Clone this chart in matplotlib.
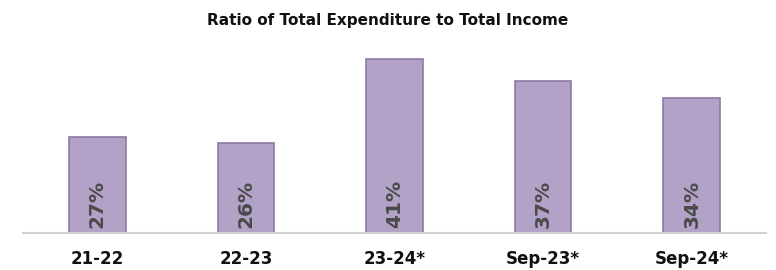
import matplotlib
matplotlib.use('Agg')
import matplotlib.pyplot as plt

# Data
categories = ['21-22', '22-23', '23-24*', 'Sep-23*', 'Sep-24*']
ratios = [27, 26, 41, 37, 34]
labels = ['27%', '26%', '41%', '37%', '34%']

fig = plt.figure(figsize=(7.76, 2.70), dpi=100)
ax = fig.add_axes([23 / 776, 37 / 270, 743 / 776, 197 / 270])

x = range(len(categories))
ax.bar(x, ratios, width=0.38, color='#b3a2c7', edgecolor='#8c7aa6', linewidth=1.2, zorder=2)

for xi, lab in zip(x, labels):
    ax.text(xi, 10.9, lab, rotation=90, ha='center', va='bottom',
            fontsize=14.5, fontweight='bold', color='#4a4a4a', zorder=3)

ax.set_xlim(-0.5, len(categories) - 0.5)
ax.set_ylim(10, 45)
ax.set_xticks(list(x))
ax.set_xticklabels(categories, fontsize=12, fontweight='bold', color='#111111')
ax.tick_params(axis='x', length=0, pad=12)
ax.set_yticks([])

for s in ['top', 'right', 'left']:
    ax.spines[s].set_visible(False)
ax.spines['bottom'].set_color('#d0d0d0')
ax.spines['bottom'].set_linewidth(1.5)

fig.text(0.5, 1 - 20 / 270, 'Ratio of Total Expenditure to Total Income',
         ha='center', va='center', fontsize=11, fontweight='bold', color='#111111')

fig.savefig('out.png', dpi=100)
